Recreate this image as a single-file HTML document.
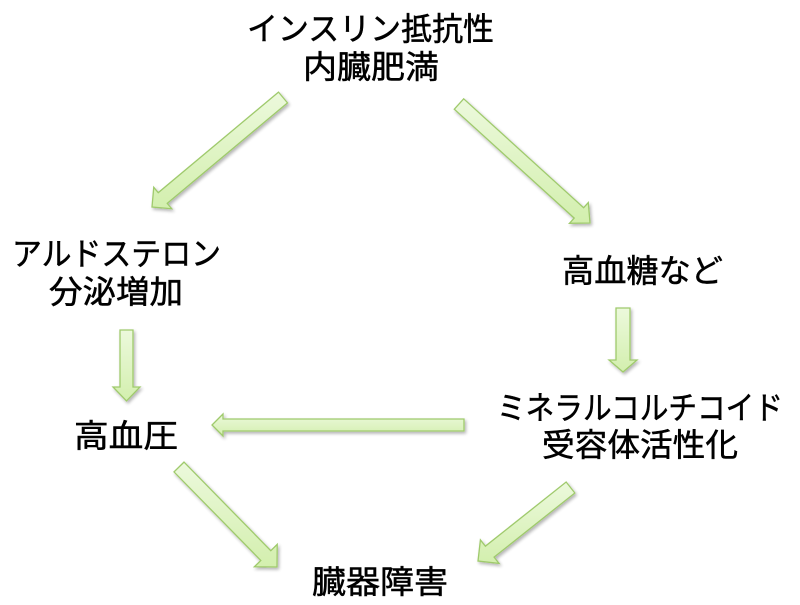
<!DOCTYPE html>
<html>
<head>
<meta charset="utf-8">
<style>
  html, body { margin:0; padding:0; background:#ffffff; }
  svg { display:block; }
  text { font-family: "Liberation Sans", "Noto Sans CJK JP", sans-serif; font-size:32px; fill:#000; stroke:#000; stroke-width:0.5px; }
</style>
</head>
<body>
<svg width="800" height="605" viewBox="0 0 800 605" xmlns="http://www.w3.org/2000/svg">
  <defs>
    <linearGradient id="g" x1="0" y1="0" x2="0" y2="1">
      <stop offset="0" stop-color="#ecf9dc"/>
      <stop offset="1" stop-color="#d3efae"/>
    </linearGradient>
    <filter id="sh" x="-20%" y="-20%" width="140%" height="140%">
      <feGaussianBlur in="SourceAlpha" stdDeviation="1.5"/>
      <feOffset dx="1.5" dy="2" result="o"/>
      <feComponentTransfer><feFuncA type="linear" slope="0.3"/></feComponentTransfer>
      <feMerge><feMergeNode/><feMergeNode in="SourceGraphic"/></feMerge>
    </filter>
  </defs>

  <g fill="url(#g)" stroke="#9fca6c" stroke-width="1.3" stroke-linejoin="miter" filter="url(#sh)">
    <polygon points="278.51,92.13 158.25,192.65 153.76,187.28 152,207 171.72,208.76 167.23,203.39 287.49,102.87"/>
    <polygon points="463.71,98.82 583.61,207.73 588.31,202.55 590,223 569.49,223.27 574.19,218.09 454.29,109.18"/>
    <polygon points="120,330 120,387 113,387 126.5,401 140,387 133,387 133,330"/>
    <polygon points="616,308 616,360 609,360 623,372 637,360 630,360 630,308"/>
    <polygon points="464,419 223,419 223,414 212,425 223,436 223,431 464,431"/>
    <polygon points="184,462.1 270.8,550.67 277.23,544.37 277,567 254.37,566.77 260.8,560.47 174,471.9"/>
    <polygon points="574.85,492.98 494.09,557.15 499.07,563.41 478,561 480.41,539.93 485.39,546.19 566.15,482.02"/>
  </g>

  <text x="247" y="40" textLength="247" lengthAdjust="spacingAndGlyphs">インスリン抵抗性</text>
  <text x="303" y="78" textLength="136" lengthAdjust="spacingAndGlyphs">内臓肥満</text>

  <text x="12" y="265" textLength="209" lengthAdjust="spacingAndGlyphs">アルドステロン</text>
  <text x="49" y="303" textLength="134" lengthAdjust="spacingAndGlyphs">分泌増加</text>

  <text x="562" y="282" textLength="161" lengthAdjust="spacingAndGlyphs">高血糖など</text>

  <text x="497" y="419" textLength="286" lengthAdjust="spacingAndGlyphs">ミネラルコルチコイド</text>
  <text x="542" y="456" textLength="196" lengthAdjust="spacingAndGlyphs">受容体活性化</text>

  <text x="74" y="447" textLength="104" lengthAdjust="spacingAndGlyphs">高血圧</text>

  <text x="312" y="593" textLength="136" lengthAdjust="spacingAndGlyphs">臓器障害</text>
</svg>
</body>
</html>
